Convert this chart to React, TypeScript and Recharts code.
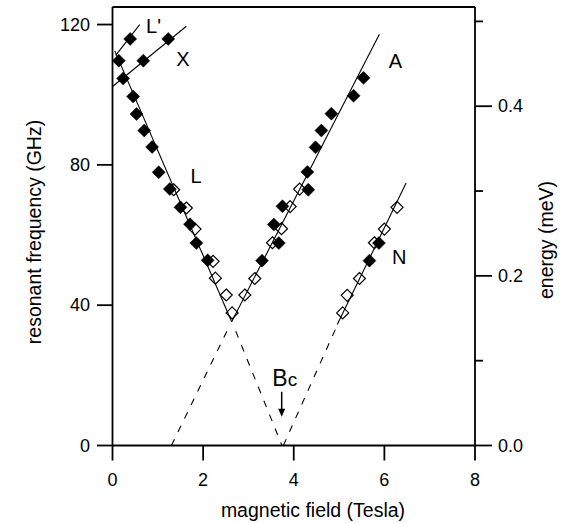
import React from 'react';
import { ComposedChart, XAxis, YAxis, Scatter, Line, ReferenceLine } from 'recharts';

// ---- data (Tesla, GHz) ----
const filledL = [
  { x: 0.14, y: 109.7 }, { x: 0.455, y: 99.5 }, { x: 0.53, y: 94.5 }, { x: 0.70, y: 89.8 },
  { x: 0.875, y: 85.1 }, { x: 1.02, y: 77.9 }, { x: 1.265, y: 73.1 }, { x: 1.50, y: 67.9 },
  { x: 1.71, y: 63.1 }, { x: 1.85, y: 57.7 }, { x: 2.10, y: 52.8 },
];
const filledLprime = [{ x: 0.39, y: 115.9 }];
const filledX = [{ x: 0.235, y: 104.6 }, { x: 0.68, y: 109.7 }, { x: 1.23, y: 115.9 }];
const openL = [
  { x: 1.35, y: 72.9 }, { x: 1.63, y: 67.7 }, { x: 1.82, y: 61.7 }, { x: 2.22, y: 52.5 },
  { x: 2.27, y: 47.7 }, { x: 2.51, y: 42.9 }, { x: 2.64, y: 37.8 },
];
const openA = [
  { x: 2.92, y: 42.9 }, { x: 3.14, y: 47.6 }, { x: 3.53, y: 57.8 }, { x: 3.73, y: 61.8 },
  { x: 3.92, y: 68.1 }, { x: 4.13, y: 73.1 },
];
const filledA = [
  { x: 3.30, y: 52.7 }, { x: 3.67, y: 57.7 }, { x: 3.56, y: 63.0 }, { x: 3.75, y: 68.2 },
  { x: 4.32, y: 72.9 }, { x: 4.30, y: 78.0 }, { x: 4.48, y: 85.0 }, { x: 4.61, y: 89.8 },
  { x: 4.83, y: 94.6 }, { x: 5.32, y: 99.7 }, { x: 5.54, y: 104.8 },
];
const openN = [
  { x: 5.08, y: 37.8 }, { x: 5.18, y: 42.8 }, { x: 5.45, y: 47.6 }, { x: 5.78, y: 57.8 },
  { x: 6.00, y: 61.7 }, { x: 6.28, y: 67.9 },
];
const filledN = [{ x: 5.67, y: 52.7 }, { x: 5.88, y: 57.7 }];

// fit lines
const fitLprime = [{ x: 0.07, y: 111.2 }, { x: 0.60, y: 120.0 }];
const fitX = [{ x: 0.01, y: 102.4 }, { x: 1.63, y: 119.5 }];
const fitL = [{ x: 0.05, y: 112.5 }, { x: 2.63, y: 35.3 }];
const fitA = [{ x: 2.63, y: 35.3 }, { x: 5.89, y: 117.2 }];
const fitN = [{ x: 4.96, y: 34.5 }, { x: 6.48, y: 74.8 }];
const dashA = [{ x: 1.30, y: 0 }, { x: 2.54, y: 33.0 }];
const dashL = [{ x: 2.72, y: 32.6 }, { x: 3.74, y: 0 }];
const dashN = [{ x: 3.77, y: 0 }, { x: 4.95, y: 34.0 }];

// annotations
const branchLabels = [
  { x: 0.905, y: 119.6, text: "L'" },
  { x: 1.556, y: 110.2, text: 'X' },
  { x: 1.843, y: 76.7, text: 'L' },
  { x: 6.246, y: 109.7, text: 'A' },
  { x: 6.33, y: 53.6, text: 'N' },
];
const bcLabel = [{ x: 3.527, y: 17.1 }];
const bcArrow = [{ x: 3.734, y: 8.2 }];

// axes
const xTicks = [0, 2, 4, 6, 8];
const yTicks = [0, 40, 80, 120];
const eTicks = [0, 0.1, 0.2, 0.3, 0.4, 0.5];
const eMajor = [0, 0.2, 0.4];
const GHZ_MAX = 125;
const MEV_PER_GHZ = 0.0041357;

const FONT = 'Liberation Sans, Arial, Helvetica, sans-serif';
const AX = 1.8;

const FilledDiamond = (p: any) => {
  const { cx, cy } = p;
  const r = 6.5;
  return <polygon points={`${cx},${cy - r} ${cx + r},${cy} ${cx},${cy + r} ${cx - r},${cy}`} fill="#000" stroke="#000" strokeWidth={0.5} />;
};
const OpenDiamond = (p: any) => {
  const { cx, cy } = p;
  const r = 6;
  return <polygon points={`${cx},${cy - r} ${cx + r},${cy} ${cx},${cy + r} ${cx - r},${cy}`} fill="none" stroke="#000" strokeWidth={1.2} />;
};
const TextMark = (p: any) => (
  <text x={p.cx} y={p.cy} textAnchor="middle" dominantBaseline="central" fontSize={20} fontFamily={FONT} fill="#000">
    {p.payload.text}
  </text>
);
const BcMark = (p: any) => (
  <text x={p.cx} y={p.cy} textAnchor="start" fontFamily={FONT} fill="#000">
    <tspan fontSize={23}>B</tspan>
    <tspan fontSize={19}>c</tspan>
  </text>
);
const ArrowMark = (p: any) => {
  const { cx, cy } = p;
  return (
    <g>
      <line x1={cx} x2={cx} y1={cy - 25} y2={cy - 6} stroke="#000" strokeWidth={1.5} />
      <polygon points={`${cx - 3.5},${cy - 8} ${cx + 3.5},${cy - 8} ${cx},${cy}`} fill="#000" />
    </g>
  );
};

const XTick = (p: any) => (
  <g>
    <line x1={p.x} x2={p.x} y1={p.y} y2={p.y + 15} stroke="#000" strokeWidth={AX} />
    <text x={p.x} y={p.y + 34.5} textAnchor="middle" dominantBaseline="central" fontSize={18} fontFamily={FONT} fill="#000">
      {p.payload.value}
    </text>
  </g>
);
const YTick = (p: any) => (
  <g>
    <line x1={p.x - 15.5} x2={p.x} y1={p.y} y2={p.y} stroke="#000" strokeWidth={AX} />
    <text x={p.x - 22.5} y={p.y} textAnchor="end" dominantBaseline="central" fontSize={18} fontFamily={FONT} fill="#000">
      {p.payload.value}
    </text>
  </g>
);
const ETick = (p: any) => {
  const v = p.payload.value;
  const major = eMajor.some((m) => Math.abs(m - v) < 1e-6);
  return (
    <g>
      <line x1={p.x} x2={p.x + (major ? 17 : 8)} y1={p.y} y2={p.y} stroke="#000" strokeWidth={AX} />
      {major && (
        <text x={p.x + 23} y={p.y} textAnchor="start" dominantBaseline="central" fontSize={18} fontFamily={FONT} fill="#000">
          {v.toFixed(1)}
        </text>
      )}
    </g>
  );
};

export default function App() {
  return (
    <div style={{ position: 'absolute', left: 0, top: 0, width: 574, height: 523, background: '#fff', fontFamily: FONT }}>
      <ComposedChart width={574} height={523} margin={{ top: 7, right: 0, bottom: 0, left: 0 }}>
        <XAxis
          dataKey="x" type="number" domain={[0, 8]} ticks={xTicks} allowDataOverflow
          height={77.5} tickSize={0} tickMargin={0} tickLine={false}
          axisLine={{ stroke: '#000', strokeWidth: AX }} tick={<XTick />} interval={0}
        />
        <YAxis
          yAxisId="left" dataKey="y" type="number" domain={[0, GHZ_MAX]} ticks={yTicks} allowDataOverflow
          width={112.5} tickSize={0} tickMargin={0} tickLine={false}
          axisLine={{ stroke: '#000', strokeWidth: AX }} tick={<YTick />} interval={0}
        />
        <YAxis
          yAxisId="right" orientation="right" type="number" domain={[0, GHZ_MAX * MEV_PER_GHZ]} ticks={eTicks} allowDataOverflow
          width={99} tickSize={0} tickMargin={0} tickLine={false}
          axisLine={{ stroke: '#000', strokeWidth: AX }} tick={<ETick />} interval={0}
        />
        <ReferenceLine yAxisId="left" y={GHZ_MAX} stroke="#000" strokeWidth={AX} />

        <Line yAxisId="left" data={fitLprime} dataKey="y" stroke="#000" strokeWidth={1.1} dot={false} type="linear" isAnimationActive={false} />
        <Line yAxisId="left" data={fitX} dataKey="y" stroke="#000" strokeWidth={1.1} dot={false} type="linear" isAnimationActive={false} />
        <Line yAxisId="left" data={fitL} dataKey="y" stroke="#000" strokeWidth={1.1} dot={false} type="linear" isAnimationActive={false} />
        <Line yAxisId="left" data={fitA} dataKey="y" stroke="#000" strokeWidth={1.1} dot={false} type="linear" isAnimationActive={false} />
        <Line yAxisId="left" data={fitN} dataKey="y" stroke="#000" strokeWidth={1.1} dot={false} type="linear" isAnimationActive={false} />
        <Line yAxisId="left" data={dashA} dataKey="y" stroke="#000" strokeWidth={1.1} strokeDasharray="7 8" dot={false} type="linear" isAnimationActive={false} />
        <Line yAxisId="left" data={dashL} dataKey="y" stroke="#000" strokeWidth={1.1} strokeDasharray="7 8" dot={false} type="linear" isAnimationActive={false} />
        <Line yAxisId="left" data={dashN} dataKey="y" stroke="#000" strokeWidth={1.1} strokeDasharray="7 8" dot={false} type="linear" isAnimationActive={false} />

        <Scatter yAxisId="left" data={openL} shape={OpenDiamond} isAnimationActive={false} />
        <Scatter yAxisId="left" data={openA} shape={OpenDiamond} isAnimationActive={false} />
        <Scatter yAxisId="left" data={openN} shape={OpenDiamond} isAnimationActive={false} />
        <Scatter yAxisId="left" data={filledL} shape={FilledDiamond} isAnimationActive={false} />
        <Scatter yAxisId="left" data={filledLprime} shape={FilledDiamond} isAnimationActive={false} />
        <Scatter yAxisId="left" data={filledX} shape={FilledDiamond} isAnimationActive={false} />
        <Scatter yAxisId="left" data={filledA} shape={FilledDiamond} isAnimationActive={false} />
        <Scatter yAxisId="left" data={filledN} shape={FilledDiamond} isAnimationActive={false} />

        <Scatter yAxisId="left" data={branchLabels} shape={TextMark} isAnimationActive={false} />
        <Scatter yAxisId="left" data={bcLabel} shape={BcMark} isAnimationActive={false} />
        <Scatter yAxisId="left" data={bcArrow} shape={ArrowMark} isAnimationActive={false} />

        <text x={313} y={517} textAnchor="middle" fontSize={19.5} fontFamily={FONT} fill="#000">magnetic field (Tesla)</text>
        <text x={41} y={232} transform="rotate(-90 41 232)" textAnchor="middle" fontSize={19.5} fontFamily={FONT} fill="#000">resonant frequency (GHz)</text>
        <text x={553} y={240} transform="rotate(-90 553 240)" textAnchor="middle" fontSize={19.5} fontFamily={FONT} fill="#000">energy (meV)</text>
      </ComposedChart>
    </div>
  );
}
